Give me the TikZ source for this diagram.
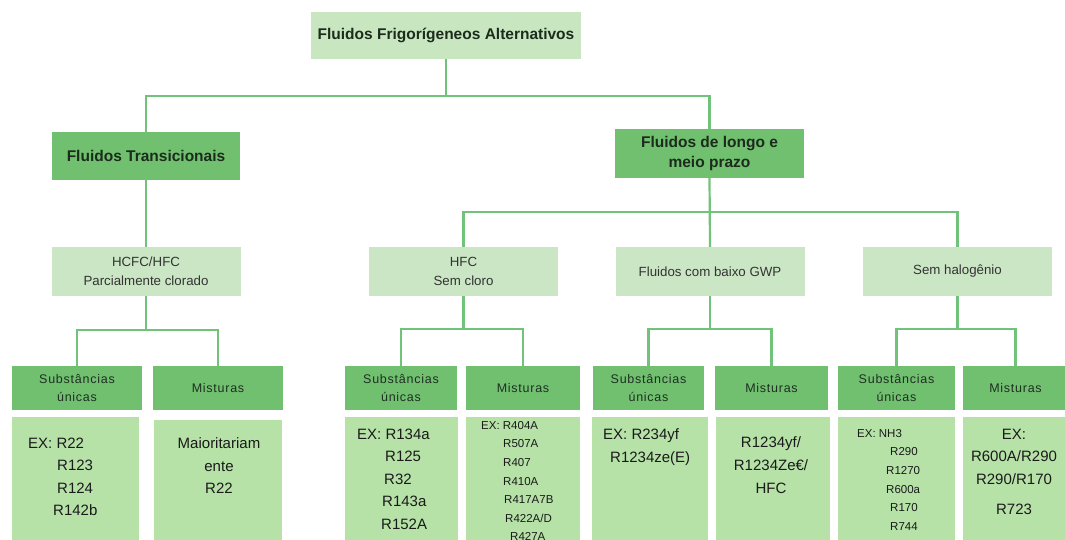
\documentclass[tikz,border=0pt]{standalone}
\usepackage{fontspec}
\setmainfont{Liberation Sans}
\newfontfamily\hdrfont[LetterSpace=6]{Liberation Sans}
\definecolor{cTop}{HTML}{C8E6C0}
\definecolor{cDark}{HTML}{70C070}
\definecolor{cMid}{HTML}{CBE6C4}
\definecolor{cCnt}{HTML}{B6E2A8}
\definecolor{cLine}{HTML}{72C37A}
\definecolor{cTitle}{HTML}{1C2B1C}
\definecolor{cMidTxt}{HTML}{333333}
\definecolor{cHdrTxt}{HTML}{1F2F22}
\definecolor{cTxt}{HTML}{1A1A1A}
\begin{document}
\begin{tikzpicture}[x=1pt,y=-1pt,
  box/.style={rectangle, inner sep=2pt, align=center},
  topbox/.style={box, fill=cTop, text=cTitle, font=\fontsize{15.5}{20.7}\selectfont\bfseries},
  catbox/.style={box, fill=cDark, text=cTitle, font=\fontsize{15.5}{20.7}\selectfont\bfseries},
  midbox/.style={box, fill=cMid, text=cMidTxt, font=\fontsize{13.3}{18.7}\selectfont, minimum width=189pt, minimum height=49pt},
  hdrbox/.style={box, fill=cDark, text=cHdrTxt, font=\hdrfont\fontsize{12.5}{18.7}\selectfont, minimum height=44pt},
  cntbox/.style={rectangle, fill=cCnt, inner sep=0pt},
  big/.style={inner sep=0pt, text=cTxt, font=\fontsize{15}{22.5}\selectfont},
  small/.style={inner sep=0pt, text=cTxt, font=\fontsize{11.5}{18.6}\selectfont},
  conn/.style={draw=cLine, line width=2.2pt}]
\useasboundingbox (0,0) rectangle (1065,539);
\clip (0,0) rectangle (1065,539);
\fill[white] (0,0) rectangle (1065,539);

% level 0
\node[topbox, minimum width=270pt, minimum height=47pt] (top) at (446,35) {Fluidos Frigorígeneos Alternativos};
% level 1
\node[catbox, minimum width=188pt, minimum height=48pt] (trans) at (146,156) {Fluidos Transicionais};
\node[catbox, minimum width=189pt, minimum height=49pt] (longo) at (709.5,153.5) {Fluidos de longo e\\meio prazo};
% level 2
\node[midbox] (hcfc) at (146,271.5) {HCFC/HFC\\Parcialmente clorado};
\node[midbox] (hfc) at (463.5,271.5) {HFC\\Sem cloro};
\node[midbox] (gwp) at (710,271.5) {Fluidos com baixo GWP};
\node[midbox] (sem) at (957.5,271.5) {Sem halogênio};
% level 3 headers
\node[hdrbox, minimum width=130pt] (l1h) at (77,388) {Substâncias\\únicas};
\node[hdrbox, minimum width=130pt] (l2h) at (218,388) {Misturas};
\node[hdrbox, minimum width=112pt] (h1h) at (401,388) {Substâncias\\únicas};
\node[hdrbox, minimum width=114pt] (h2h) at (523,388) {Misturas};
\node[hdrbox, minimum width=111pt] (g1h) at (648.5,388) {Substâncias\\únicas};
\node[hdrbox, minimum width=113pt] (g2h) at (771.5,388) {Misturas};
\node[hdrbox, minimum width=117pt] (s1h) at (896.5,388) {Substâncias\\únicas};
\node[hdrbox, minimum width=105pt] (s2h) at (1015.5,388) {Misturas};
% content boxes
\node[cntbox, minimum width=127pt, minimum height=143pt] (l1c) at (75.5,488.5) {};
\node[cntbox, minimum width=128pt, minimum height=140pt] (l2c) at (218,490) {};
\node[cntbox, minimum width=113pt, minimum height=143pt] (h1c) at (401.5,488.5) {};
\node[cntbox, minimum width=114pt, minimum height=143pt] (h2c) at (523,488.5) {};
\node[cntbox, minimum width=116pt, minimum height=143pt] (g1c) at (650,488.5) {};
\node[cntbox, minimum width=114pt, minimum height=143pt] (g2c) at (773,488.5) {};
\node[cntbox, minimum width=117pt, minimum height=143pt] (s1c) at (896.5,488.5) {};
\node[cntbox, minimum width=105pt, minimum height=143pt] (s2c) at (1015.5,488.5) {};
% content texts
\node[big, anchor=north west, align=left] (l1t) at (28,437.6) {EX: R22\\\hspace*{29pt}R123\\\hspace*{29pt}R124\\\hspace*{25pt}R142b};
\node[big, anchor=north, align=center] (l2t) at (219,437.6) {Maioritariam\\ente\\R22};
\node[big, anchor=north west, align=left] (h1t) at (357,428.6) {EX: R134a\\\hspace*{28pt}R125\\\hspace*{27pt}R32\\\hspace*{25pt}R143a\\\hspace*{24pt}R152A};
\node[small, anchor=north west, align=left] (h2t) at (481,421) {EX: R404A\\\hspace*{22pt}R507A\\\hspace*{22pt}R407\\\hspace*{22pt}R410A\\\hspace*{23pt}R417A7B\\\hspace*{24pt}R422A/D\\\hspace*{29pt}R427A};
\node[big, anchor=north west, align=left, font=\fontsize{15}{23}\selectfont] (g1t) at (603,428.6) {EX: R234yf\\\hspace*{7pt}R1234ze(E)};
\node[big, anchor=north, align=center, font=\fontsize{15}{23}\selectfont] (g2t) at (771,436.6) {R1234yf/\\R1234Ze€/\\HFC};
\node[small, anchor=north west, align=left] (s1t) at (857,429) {EX: NH3\\\hspace*{33pt}R290\\\hspace*{29pt}R1270\\\hspace*{29pt}R600a\\\hspace*{33pt}R170\\\hspace*{33pt}R744};
\node[big, anchor=north, align=center, font=\fontsize{15}{22.5}\selectfont] (s2t) at (1014,428.6) {EX:\\R600A/R290\\R290/R170\\[8pt]R723};

% junction coordinates
\coordinate (j0) at (446,96);
\coordinate (j1) at (709.5,212);
\coordinate (jl) at (146,330);
\coordinate (jh) at (463.5,329);
\coordinate (jg) at (710,329);
\coordinate (js) at (957.5,329);

% connectors
\draw[conn] (top.south) -- (j0);
\draw[conn] (trans.north) -- (trans.north |- j0) -- (longo.north |- j0) -- (longo.north);
\draw[conn] (trans.south) -- (hcfc.north);
\draw[conn] (longo.south) -- (gwp.north);
\draw[conn] (hfc.north) -- (hfc.north |- j1) -- (sem.north |- j1) -- (sem.north);
\draw[conn] (hcfc.south) -- (jl);
\draw[conn] (l1h.north) -- (l1h.north |- jl) -- (l2h.north |- jl) -- (l2h.north);
\draw[conn] (hfc.south) -- (jh);
\draw[conn] (h1h.north) -- (h1h.north |- jh) -- (h2h.north |- jh) -- (h2h.north);
\draw[conn] (gwp.south) -- (jg);
\draw[conn] (g1h.north) -- (g1h.north |- jg) -- (g2h.north |- jg) -- (g2h.north);
\draw[conn] (sem.south) -- (js);
\draw[conn] (s1h.north) -- (s1h.north |- js) -- (s2h.north |- js) -- (s2h.north);
\end{tikzpicture}
\end{document}
